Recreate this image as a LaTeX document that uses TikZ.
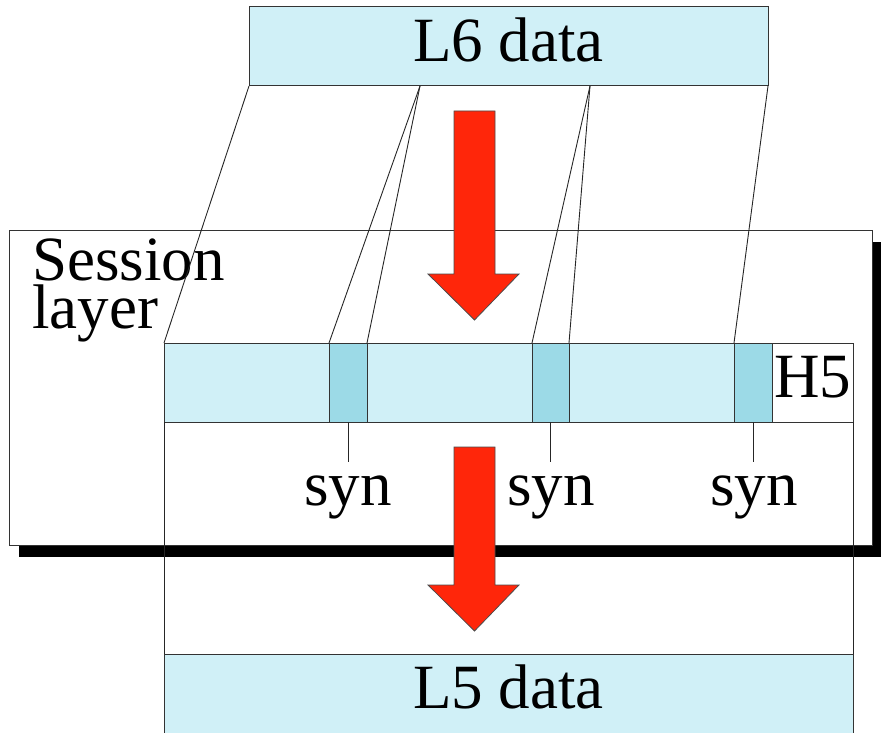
\documentclass[tikz,border=0pt]{standalone}
\usepackage{fontspec}
\setmainfont{Liberation Serif}
\usetikzlibrary{positioning, shadows}

\definecolor{pdublue}{RGB}{208,240,247}
\definecolor{synblue}{RGB}{156,218,231}
\definecolor{arrowred}{RGB}{255,38,10}

\begin{document}
\begin{tikzpicture}[
    x=1pt, y=-1pt,
    cell/.style={rectangle, draw=black!80, line width=1pt, inner sep=0pt, outer sep=0pt},
    datacell/.style={cell, fill=pdublue},
    syncell/.style={cell, fill=synblue, minimum height=79pt},
    bigtext/.style={font=\fontsize{63}{48}\selectfont, inner sep=0pt},
    wire/.style={draw=black!85, line width=0.9pt},
    redarrow/.style={fill=arrowred, draw=black!70, line width=0.8pt, line join=miter}
]
\useasboundingbox (0,0) rectangle (881,733);

% Session layer box with its heavy shadow
\node[cell, fill=white, minimum width=863pt, minimum height=315pt,
      drop shadow={shadow xshift=10pt, shadow yshift=-12pt, fill=black, opacity=1}]
      (session) at (440.5,387.5) {};
\node[bigtext, align=left, anchor=base west] (sesstext) at (32,328) {Session\\layer};

% Session PDU: data with sync points and header
\node[datacell, minimum width=689pt, minimum height=79pt] (pdu) at (508.5,382.5) {};
\node[syncell, minimum width=38pt] (syn1) at (348,382.5) {};
\node[syncell, minimum width=37pt] (syn2) at (550.5,382.5) {};
\node[syncell, minimum width=38pt] (syn3) at (753,382.5) {};
\node[cell, fill=white, minimum width=81pt, minimum height=79pt] (hdr) at (812.5,382.5) {};
\node[bigtext, anchor=base] (hdrtext) at (812.5,397) {H5};

% L5 data at the bottom
\node[datacell, minimum width=689pt, minimum height=92pt] (l5) at (508.5,700) {};
\node[bigtext, anchor=base] (l5text) at (508.5,708) {L5 data};

% sides of the lower frame
\draw[wire] (pdu.south west) -- (l5.north west);
\draw[wire] (pdu.south east) -- (l5.north east);

% L6 data at the top
\node[datacell, minimum width=519pt, minimum height=79pt] (l6) at (508.5,46.5) {};
\node[bigtext, anchor=base] (l6text) at (508.5,62) {L6 data};

% split points under L6 data
\coordinate (cut1) at (420,86);
\coordinate (cut2) at (590,86);

\draw[wire] (l6.south west) -- (pdu.north west);
\draw[wire] (cut1) -- (syn1.north west);
\draw[wire] (cut1) -- (syn1.north east);
\draw[wire] (cut2) -- (syn2.north west);
\draw[wire] (cut2) -- (syn2.north east);
\draw[wire] (l6.south east) -- (syn3.north west);

% sync markers
\coordinate (tick1) at (348,462);
\coordinate (tick2) at (550.5,462);
\coordinate (tick3) at (753,462);
\draw[wire] (syn1.south) -- (tick1);
\draw[wire] (syn2.south) -- (tick2);
\draw[wire] (syn3.south) -- (tick3);
\node[bigtext, anchor=base] (lab1) at (348,505) {syn};
\node[bigtext, anchor=base] (lab2) at (551,505) {syn};
\node[bigtext, anchor=base] (lab3) at (754,505) {syn};

% red arrows
\draw[redarrow] (454,111) -- (495,111) -- (495,274) -- (519,274)
    -- (474.5,320) -- (428,274) -- (454,274) -- cycle;
\draw[redarrow] (454,447) -- (495,447) -- (495,585) -- (519,585)
    -- (474.5,631) -- (428,585) -- (454,585) -- cycle;

\end{tikzpicture}
\end{document}
